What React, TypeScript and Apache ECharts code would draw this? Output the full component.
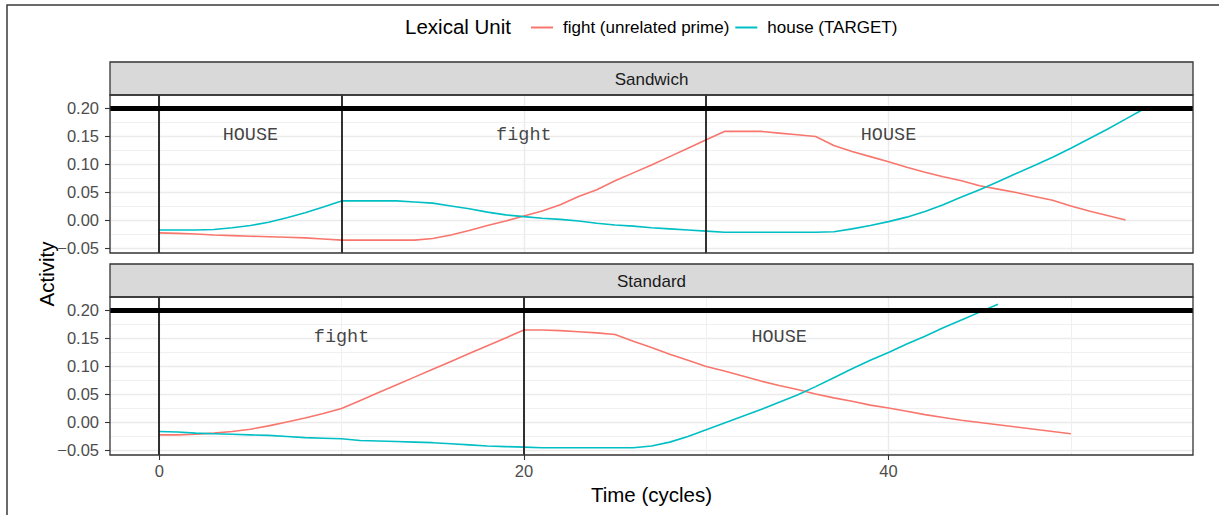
import React, { useEffect, useRef } from "react";
import * as echarts from "echarts";

// ---- data (activity per cycle, starting at cycle 0) ----
const sandwichFight = [
  -0.023, -0.024, -0.025, -0.027, -0.028, -0.029, -0.030, -0.031, -0.032, -0.034,
  -0.036, -0.036, -0.036, -0.036, -0.036, -0.033, -0.027, -0.019, -0.010, -0.002,
  0.007, 0.016, 0.027, 0.042, 0.054, 0.070, 0.084, 0.098, 0.113, 0.128,
  0.143, 0.158, 0.158, 0.158, 0.155, 0.152, 0.149, 0.133, 0.122, 0.113,
  0.104, 0.094, 0.085, 0.077, 0.070, 0.061, 0.055, 0.049, 0.042, 0.035,
  0.025, 0.016, 0.008, 0.000,
];
const sandwichHouse = [
  -0.018, -0.018, -0.018, -0.017, -0.014, -0.010, -0.004, 0.004, 0.013, 0.023,
  0.034, 0.034, 0.034, 0.034, 0.032, 0.030, 0.025, 0.020, 0.014, 0.009,
  0.006, 0.003, 0.001, -0.002, -0.006, -0.009, -0.011, -0.014, -0.016, -0.018,
  -0.020, -0.022, -0.022, -0.022, -0.022, -0.022, -0.022, -0.021, -0.016, -0.010,
  -0.003, 0.005, 0.015, 0.027, 0.041, 0.054, 0.068, 0.083, 0.097, 0.112,
  0.128, 0.145, 0.162, 0.180, 0.198,
];
const standardFight = [
  -0.023, -0.023, -0.022, -0.020, -0.017, -0.013, -0.007, 0.000, 0.007, 0.015,
  0.024, 0.038, 0.052, 0.066, 0.080, 0.094, 0.108, 0.122, 0.136, 0.150,
  0.164, 0.164, 0.163, 0.161, 0.159, 0.156, 0.144, 0.133, 0.121, 0.110,
  0.099, 0.091, 0.082, 0.073, 0.065, 0.058, 0.050, 0.043, 0.037, 0.030,
  0.025, 0.019, 0.013, 0.008, 0.003, -0.001, -0.005, -0.009, -0.013, -0.017,
  -0.021,
];
const standardHouse = [
  -0.017, -0.018, -0.020, -0.021, -0.022, -0.023, -0.024, -0.026, -0.028, -0.029,
  -0.030, -0.033, -0.034, -0.035, -0.036, -0.037, -0.039, -0.041, -0.043, -0.044,
  -0.045, -0.046, -0.046, -0.046, -0.046, -0.046, -0.046, -0.043, -0.036, -0.026,
  -0.014, -0.002, 0.010, 0.022, 0.035, 0.048, 0.063, 0.079, 0.095, 0.110,
  0.124, 0.139, 0.153, 0.168, 0.182, 0.196, 0.210,
];

const panelNames = ["Sandwich", "Standard"];
const seriesNames = ["fight (unrelated prime)", "house (TARGET)"];
const seriesColors = ["#F8766D", "#00BFC4"];

const sandwichBoundaries = [0, 10, 30];
const standardBoundaries = [0, 20];
const threshold = 0.2;

const sandwichLabelX = [5, 20, 40];
const sandwichLabelText = ["HOUSE", "fight", "HOUSE"];
const standardLabelX = [10, 34];
const standardLabelText = ["fight", "HOUSE"];
const labelY = 0.15;

const xTicks = [0, 20, 40];
const yTicks = [-0.05, 0, 0.05, 0.1, 0.15, 0.2];
const X_MIN = -2.7;
const X_MAX = 56.7;
const Y_MIN = -0.059;
const Y_MAX = 0.223;

const FONT = '"Liberation Sans", Arial, Helvetica, sans-serif';
const MONO = '"Liberation Mono", "Courier New", monospace';

// layout
const PANEL_LEFT = 110;
const PANEL_RIGHT = 1193;
const PANEL_W = PANEL_RIGHT - PANEL_LEFT;
const PANEL_TOPS = [95, 297];
const PANEL_H = 158;
const STRIP_H = 33;

const toPoints = (vals: number[]) => vals.map((v, i) => [i, v]);

const fmtY = (v: number) => {
  const s = Math.abs(v).toFixed(2);
  return v < -1e-9 ? "\u2212" + s : s;
};

export default function App() {
  const ref = useRef<HTMLDivElement>(null);

  useEffect(() => {
    document.body.style.margin = "0";
    if (!ref.current) return;
    const chart = echarts.init(ref.current, null, { renderer: "svg" });

    const grids = PANEL_TOPS.map((top) => ({
      left: PANEL_LEFT,
      top,
      width: PANEL_W,
      height: PANEL_H,
      show: false,
      containLabel: false,
    }));

    const xAxes = [0, 1].map((gi) => ({
      type: "value",
      gridIndex: gi,
      min: X_MIN,
      max: X_MAX,
      splitNumber: 3,
      position: "bottom",
      axisLine: { show: false, onZero: false },
      axisTick:
        gi === 1
          ? { show: true, length: 5, lineStyle: { color: "#333", width: 1.1 }, customValues: xTicks }
          : { show: false },
      axisLabel:
        gi === 1
          ? {
              show: true,
              customValues: xTicks,
              margin: 7,
              fontSize: 16.5,
              color: "#4d4d4d",
              fontFamily: FONT,
            }
          : { show: false },
      splitLine: { show: true, lineStyle: { color: "#ebebeb", width: 1.4 } },
      minorTick: { show: false, splitNumber: 2 },
      minorSplitLine: { show: true, lineStyle: { color: "#f0f0f0", width: 1 } },
    }));

    const yAxes = [0, 1].map((gi) => ({
      type: "value",
      gridIndex: gi,
      min: Y_MIN,
      max: Y_MAX,
      splitNumber: 5,
      position: "left",
      axisLine: { show: false, onZero: false },
      axisTick: { show: true, length: 5, lineStyle: { color: "#333", width: 1.1 }, customValues: yTicks },
      axisLabel: {
        show: true,
        customValues: yTicks,
        formatter: (v: number) => fmtY(v),
        margin: 11,
        fontSize: 16.5,
        color: "#4d4d4d",
        fontFamily: FONT,
      },
      splitLine: { show: true, lineStyle: { color: "#ebebeb", width: 1.4 } },
      minorTick: { show: false, splitNumber: 2 },
      minorSplitLine: { show: true, lineStyle: { color: "#f0f0f0", width: 1 } },
    }));

    const panelData = [
      { fight: sandwichFight, house: sandwichHouse, bounds: sandwichBoundaries, lx: sandwichLabelX, lt: sandwichLabelText },
      { fight: standardFight, house: standardHouse, bounds: standardBoundaries, lx: standardLabelX, lt: standardLabelText },
    ];

    const series: any[] = [];
    panelData.forEach((p, gi) => {
      series.push({
        type: "line",
        name: seriesNames[0],
        xAxisIndex: gi,
        yAxisIndex: gi,
        data: toPoints(p.fight),
        symbol: "none",
        lineStyle: { color: seriesColors[0], width: 1.6 },
        itemStyle: { color: seriesColors[0] },
        z: 3,
      });
      series.push({
        type: "line",
        name: seriesNames[1],
        xAxisIndex: gi,
        yAxisIndex: gi,
        data: toPoints(p.house),
        symbol: "none",
        lineStyle: { color: seriesColors[1], width: 1.6 },
        itemStyle: { color: seriesColors[1] },
        z: 3,
      });
      series.push({
        type: "line",
        name: "marks" + gi,
        xAxisIndex: gi,
        yAxisIndex: gi,
        data: [],
        symbol: "none",
        z: 4,
        markLine: {
          silent: true,
          symbol: ["none", "none"],
          label: { show: false },
          animation: false,
          data: [
            ...p.bounds.map((b) => ({ xAxis: b, lineStyle: { color: "#000", width: 1.6, type: "solid" } })),
            { yAxis: threshold, lineStyle: { color: "#000", width: 5, type: "solid" } },
          ],
        },
      });
      series.push({
        type: "scatter",
        name: "labels" + gi,
        xAxisIndex: gi,
        yAxisIndex: gi,
        symbolSize: 0.1,
        itemStyle: { color: "transparent" },
        z: 5,
        data: p.lx.map((x, i) => ({ value: [x, labelY], name: p.lt[i] })),
        label: {
          show: true,
          position: "inside",
          formatter: (prm: any) => prm.name,
          fontFamily: MONO,
          fontSize: 18.5,
          color: "#111",
        },
      });
    });

    const graphic: any[] = [
      {
        type: "rect",
        shape: { x: 7, y: 5, width: 1400, height: 700 },
        style: { fill: "none", stroke: "#3a3a3a", lineWidth: 1.5 },
        silent: true,
      },
      {
        type: "text",
        x: 511,
        y: 26,
        style: {
          text: "Lexical Unit",
          font: `20.5px ${FONT}`,
          fill: "#000",
          textAlign: "right",
          textVerticalAlign: "middle",
        },
      },
      {
        type: "text",
        x: PANEL_LEFT + PANEL_W / 2,
        y: 494,
        style: {
          text: "Time (cycles)",
          font: `20.5px ${FONT}`,
          fill: "#000",
          textAlign: "center",
          textVerticalAlign: "middle",
        },
      },
      {
        type: "text",
        x: 46,
        y: 274,
        rotation: Math.PI / 2,
        style: {
          text: "Activity",
          font: `20.5px ${FONT}`,
          fill: "#000",
          textAlign: "center",
          textVerticalAlign: "middle",
        },
      },
    ];
    PANEL_TOPS.forEach((top, i) => {
      graphic.push({
        type: "rect",
        shape: { x: PANEL_LEFT, y: top - STRIP_H, width: PANEL_W, height: STRIP_H },
        style: { fill: "#d9d9d9", stroke: "#333", lineWidth: 1.3 },
        z: 100,
        silent: true,
      });
      graphic.push({
        type: "text",
        x: PANEL_LEFT + PANEL_W / 2,
        y: top - STRIP_H / 2 + 0.5,
        style: {
          text: panelNames[i],
          font: `17px ${FONT}`,
          fill: "#1a1a1a",
          textAlign: "center",
          textVerticalAlign: "middle",
        },
        z: 101,
      });
      graphic.push({
        type: "rect",
        shape: { x: PANEL_LEFT, y: top, width: PANEL_W, height: PANEL_H },
        style: { fill: "none", stroke: "#333", lineWidth: 1.3 },
        z: 100,
        silent: true,
      });
    });

    chart.setOption({
      animation: false,
      backgroundColor: "#fff",
      grid: grids,
      xAxis: xAxes,
      yAxis: yAxes,
      legend: {
        left: 526,
        top: 14,
        icon: "rect",
        itemWidth: 22,
        itemHeight: 2,
        itemGap: 6,
        data: seriesNames,
        textStyle: { fontSize: 17, color: "#000", fontFamily: FONT, padding: [0, 0, 0, 5] },
        selectedMode: false,
      },
      series,
      graphic,
    });

    return () => chart.dispose();
  }, []);

  return <div ref={ref} style={{ width: 1219, height: 515 }} />;
}
